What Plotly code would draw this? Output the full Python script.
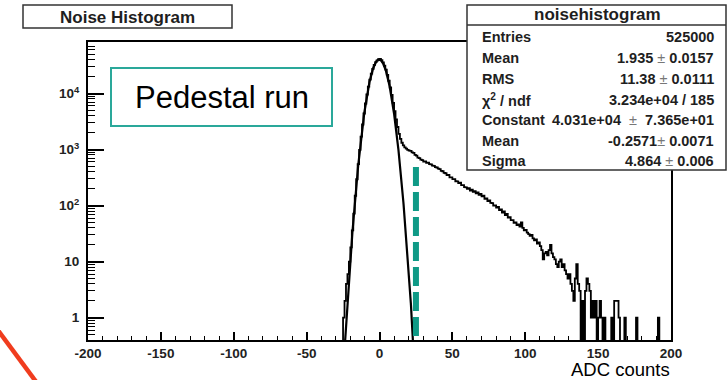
import plotly.graph_objects as go
import numpy as np

# ---------------- data ----------------
bin_start = -27          # left edge of first bin (bin width 1 ADC count)
bin_width = 1
counts = [
    0, 0, 1, 2, 4, 6, 10, 18, 36, 72, 150, 295, 550, 990, 1700, 2800, 4400, 6630,
    9600, 13300, 17700, 22550, 27560, 32300, 36200, 39000, 41000,
    41500, 39450, 36000, 31560, 26600, 21580, 16900, 12800, 9420, 6790,
    4825, 3450, 2525, 1908, 1545, 1322, 1187, 1092, 1039, 990,
    958, 950, 890, 870, 805, 780, 715, 705, 660, 650,
    610, 612, 580, 585, 548, 545, 515, 512, 485, 478,
    455, 448, 415, 410, 385, 378, 350, 352, 318, 320,
    296, 298, 272, 270, 252, 256, 232, 232, 214, 212,
    200, 205, 186, 192, 176, 182, 166, 172, 156, 162,
    146, 150, 132, 135, 120, 124, 112, 111, 100, 101,
    92, 95, 83, 86, 75, 79, 68, 71, 61, 62,
    55, 55, 49, 50, 45, 46, 42, 50, 40, 36,
    37, 33, 31, 29, 30, 26, 24, 25, 21, 22,
    19, 16, 11, 14, 15, 13, 16, 20, 14, 12,
    11, 9, 8, 10, 11, 8, 9, 7, 6, 5,
    6, 4, 3, 2, 5, 9, 4, 3, 0, 2,
    0, 3, 5, 4, 3, 1, 2, 1, 2, 0,
    1, 2, 1, 0, 1, 0, 0, 0, 0, 1,
    0, 2, 2, 2, 1, 0, 0, 0, 1, 0,
    0, 0, 0, 0, 0, 0, 1, 0, 0, 0,
    0, 0, 0, 0, 0, 0, 0, 0, 0, 0,
    0, 1, 0, 0, 0, 0, 0, 0, 0, 0,
]
fit_constant = 4.031e4
fit_mean = -0.2571
fit_sigma = 4.864
fit_range = (-30, 30)

x_tickvals = [-200, -150, -100, -50, 0, 50, 100, 150, 200]
y_tickvals = [1, 10, 100, 1000, 10000]
y_ticktext = ["1", "10", "10<sup>2</sup>", "10<sup>3</sup>", "10<sup>4</sup>"]

hist_title = "Noise Histogram"
stats_title = "noisehistogram"
stats_labels = ["Entries", "Mean", "RMS", "χ<sup>2</sup> / ndf", "Constant", "Mean", "Sigma"]
stats_values = ["525000", "1.935 ± 0.0157", "11.38 ± 0.0111", "3.234e+04 / 185",
                "4.031e+04 ± 7.365e+01", "-0.2571± 0.0071", "4.864 ± 0.006"]
x_title = "ADC counts"
label_text = "Pedestal run"
cut_position = 25
cut_top_value = 490

# ---------------- geometry ----------------
W, H = 727, 380
L, R, T, B = 88, 671, 42, 340
Y_MIN, Y_MAX = 0.4, 8.3e4
def px(x):
    return (x - L) / (R - L)
def py(y):
    return (B - y) / (B - T)

FONT = "Liberation Sans, Arial, Helvetica, sans-serif"
TXT = "#1e1e1e"

# histogram step line
edges = [bin_start + i * bin_width for i in range(len(counts) + 1)]
vals = [c if c > 0 else 1e-3 for c in counts]
vals = vals + [vals[-1]]

xf = np.linspace(fit_range[0], fit_range[1], 601)
yf = fit_constant * np.exp(-0.5 * ((xf - fit_mean) / fit_sigma) ** 2)
yf = np.maximum(yf, 1e-6)

fig = go.Figure()
fig.add_trace(go.Scatter(x=edges, y=vals, mode="lines", line=dict(shape="hv", color="black", width=1.8),
                         showlegend=False, hoverinfo="skip"))
fig.add_trace(go.Scatter(x=xf, y=yf, mode="lines", line=dict(color="black", width=2.2),
                         showlegend=False, hoverinfo="skip"))

minor_y = [k * 10 ** d for d in range(-1, 5) for k in range(2, 10)]

fig.update_layout(
    width=W, height=H,
    margin=dict(l=L, r=W - R, t=T, b=H - B),
    paper_bgcolor="white", plot_bgcolor="white",
    font=dict(family=FONT, color=TXT),
    xaxis=dict(range=[-200, 200], tickvals=x_tickvals,
               ticktext=["<b>%d</b>" % v for v in x_tickvals],
               ticks="inside", ticklen=8, tickwidth=1.5, tickcolor="black",
               showline=True, linewidth=2, linecolor="black", mirror=True,
               showgrid=False, zeroline=False,
               tickfont=dict(size=13.5, color="#222"),
               minor=dict(tickvals=list(range(-190, 200, 10)), ticks="inside", ticklen=4,
                          tickwidth=1, tickcolor="black", showgrid=False)),
    yaxis=dict(type="log", range=[np.log10(Y_MIN), np.log10(Y_MAX)],
               tickvals=y_tickvals, ticktext=["<b>%s</b>" % t for t in y_ticktext],
               ticks="inside", ticklen=16, tickwidth=1.5, tickcolor="black",
               showline=True, linewidth=2, linecolor="black", mirror=True,
               showgrid=False, zeroline=False, ticklabelstandoff=4,
               tickfont=dict(size=13.5, color="#222"),
               minor=dict(tickvals=minor_y, ticks="inside", ticklen=7, tickwidth=1,
                          tickcolor="black", showgrid=False)),
)

shapes = []
ann = []
# title box
shapes.append(dict(type="rect", xref="paper", yref="paper", x0=px(23), x1=px(232), y0=py(5), y1=py(28),
                   line=dict(color="#333", width=1.5), fillcolor="white", layer="above"))
ann.append(dict(x=px(127.5), y=py(17), xref="paper", yref="paper", text="<b>%s</b>" % hist_title,
                showarrow=False, xanchor="center", yanchor="middle", font=dict(size=17, color=TXT)))
# stats box
shapes.append(dict(type="rect", xref="paper", yref="paper", x0=px(467), x1=px(726), y0=py(5), y1=py(170),
                   line=dict(color="#333", width=1.5), fillcolor="white", layer="above"))
shapes.append(dict(type="line", xref="paper", yref="paper", x0=px(467), x1=px(726), y0=py(25), y1=py(25),
                   line=dict(color="#333", width=1.5), layer="above"))
ann.append(dict(x=px(597.5), y=py(15), xref="paper", yref="paper", text="<b>%s</b>" % stats_title,
                showarrow=False, xanchor="center", yanchor="middle", font=dict(size=17, color=TXT)))
row_y = [37, 58, 79, 99.5, 120, 140.5, 161]
for lab, val, yy in zip(stats_labels, stats_values, row_y):
    ann.append(dict(x=px(480), y=py(yy), xref="paper", yref="paper", text="<b>%s</b>" % lab,
                    showarrow=False, xanchor="left", yanchor="middle", font=dict(size=14.5, color=TXT)))
    if val.startswith("4.031"):
        v = val.replace(" ± ", "</b>&nbsp;&nbsp;<span style='color:#777'>±</span>&nbsp;&nbsp;<b>")
    else:
        v = val.replace("±", "</b><span style='color:#777'>±</span><b>")
    ann.append(dict(x=px(716), y=py(yy), xref="paper", yref="paper", text="<b>%s</b>" % v,
                    showarrow=False, xanchor="right", yanchor="middle", font=dict(size=14.5, color=TXT)))
# Pedestal run box
shapes.append(dict(type="rect", xref="paper", yref="paper", x0=px(111), x1=px(332), y0=py(68), y1=py(126),
                   line=dict(color="#2aa89a", width=2), fillcolor="white", layer="above"))
ann.append(dict(x=px(221.5), y=py(97.5), xref="paper", yref="paper", text=label_text,
                showarrow=False, xanchor="center", yanchor="middle", font=dict(size=31, color="black")))
# dashed cut line (data coordinates)
shapes.append(dict(type="line", xref="x", yref="y", x0=cut_position, x1=cut_position,
                   y0=cut_top_value, y1=Y_MIN,
                   line=dict(color="#0f9a86", width=6, dash="19px,6px"), layer="above"))
# x-axis title
ann.append(dict(x=px(672), y=py(369), xref="paper", yref="paper", text=x_title,
                showarrow=False, xanchor="right", yanchor="middle", font=dict(size=18.5, color="black")))
# red stroke in corner
shapes.append(dict(type="line", xref="paper", yref="paper", x0=px(-3), y0=py(329), x1=px(37), y1=py(383),
                   line=dict(color="#f03c1e", width=4.5), layer="above"))

fig.update_layout(shapes=shapes, annotations=ann)
fig.write_html("out.html")
